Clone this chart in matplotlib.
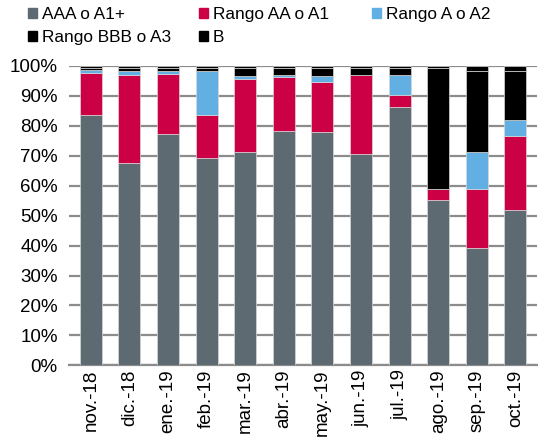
import matplotlib
matplotlib.use('Agg')
import matplotlib.pyplot as plt
from matplotlib.patches import Patch
from matplotlib.ticker import PercentFormatter
import numpy as np

plt.rcParams['font.family'] = ['Liberation Sans', 'DejaVu Sans']

months = ['nov.-18', 'dic.-18', 'ene.-19', 'feb.-19', 'mar.-19', 'abr.-19',
          'may.-19', 'jun.-19', 'jul.-19', 'ago.-19', 'sep.-19', 'oct.-19']
aaa = [83.6, 67.6, 77.4, 69.3, 71.2, 78.2, 78.1, 70.7, 86.4, 55.2, 39.3, 51.8]
aa = [14.0, 29.3, 19.8, 14.3, 24.6, 18.1, 16.7, 26.3, 4.0, 3.7, 19.6, 24.9]
a = [1.2, 1.5, 1.2, 14.8, 1.0, 0.7, 1.9, 0.0, 6.6, 0.0, 12.2, 5.3]
bbb = [0.6, 0.8, 0.9, 0.9, 2.5, 2.3, 2.6, 2.3, 2.3, 40.4, 27.3, 16.3]
b = [0.6, 0.8, 0.7, 0.7, 0.7, 0.7, 0.7, 0.7, 0.7, 0.7, 1.6, 1.7]

series = [('AAA o A1+', aaa, '#5d6a71'),
          ('Rango AA o A1', aa, '#cc0044'),
          ('Rango A o A2', a, '#62b0e3'),
          ('Rango BBB o A3', bbb, '#000000'),
          ('B', b, '#000000')]

fig = plt.figure(figsize=(5.38, 4.37), dpi=100)
ax = fig.add_axes([0.128, 0.164, 0.871, 0.685])

x = np.arange(len(months))
bottom = np.zeros(len(months))
for name, vals, col in series:
    vals = np.array(vals) / 100.0
    ax.bar(x, vals, 0.57, bottom=bottom, color=col, edgecolor='#d8d8d8',
           linewidth=0.5, zorder=3)
    bottom += vals

ax.set_ylim(0, 1.0)
ax.set_xlim(-0.57, 11.57)
ax.set_yticks(np.arange(0, 1.01, 0.1))
ax.yaxis.set_major_formatter(PercentFormatter(1.0, decimals=0))
ax.set_xticks(x)
ax.set_xticklabels(months, rotation=90)
ax.tick_params(axis='y', length=0, labelsize=13.5, pad=8)
ax.tick_params(axis='x', length=0, labelsize=13.5, pad=3)
ax.grid(axis='y', color='#8c8c8c', linewidth=1.6, zorder=0)
for s in ['top', 'right', 'left']:
    ax.spines[s].set_visible(False)
ax.spines['bottom'].set_color('#8c8c8c')
ax.spines['bottom'].set_linewidth(1.6)

# legend: one column per legend so columns sit where the reference has them
cols = [[0, 3], [1, 4], [2]]
col_x = [28 / 538, 199 / 538, 372 / 538]
for idx, cx in zip(cols, col_x):
    handles = [Patch(color=series[i][2]) for i in idx]
    labels = [series[i][0] for i in idx]
    fig.legend(handles, labels, loc='upper left', bbox_to_anchor=(cx, 1 - 7 / 437),
               frameon=False, fontsize=12.4, handlelength=0.55, handleheight=0.55,
               handletextpad=0.25, labelspacing=0.48, borderpad=0, borderaxespad=0)

fig.savefig('out.png', dpi=100)
